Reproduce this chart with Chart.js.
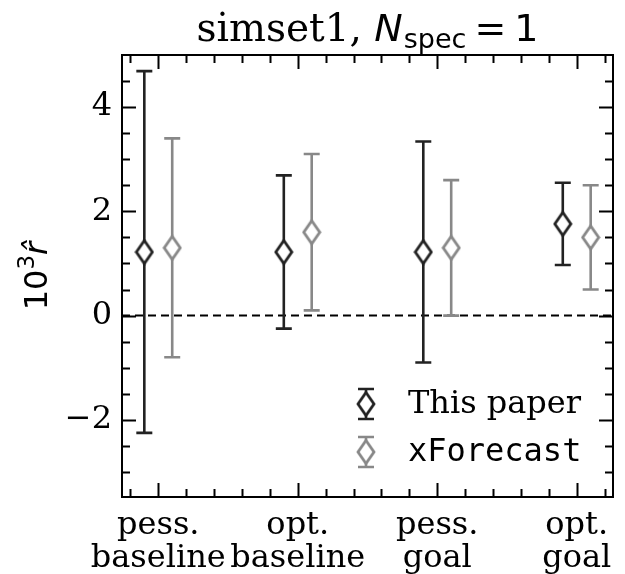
<!DOCTYPE html>
<html>
<head>
<meta charset="utf-8">
<script src="https://cdn.jsdelivr.net/npm/chart.js@4"></script>
<style>
  body { margin: 0; background: #fff; }
  #wrap { width: 625px; height: 574px; }
</style>
</head>
<body>
<div id="wrap"><canvas id="grafica" width="625" height="574"></canvas></div>
<script>
// Datos
const categorias = [["pess.", "baseline"], ["opt.", "baseline"], ["pess.", "goal"], ["opt.", "goal"]];
const posiciones = [0, 1, 2, 3];

const paperValores = [1.22, 1.22, 1.22, 1.76];
const paperErrores = [3.47, 1.47, 2.12, 0.79];

const xfValores = [1.30, 1.60, 1.30, 1.50];
const xfErrores = [2.10, 1.50, 1.30, 1.00];

const yTicks = [-2, 0, 2, 4];

const colorPaper = "#222222";
const colorXf = "#888888";
const desplazamiento = 0.1;

// marcador diamante delgado
function diamante(color, w, h) {
  const c = document.createElement("canvas");
  c.width = w + 4;
  c.height = h + 4;
  const g = c.getContext("2d");
  g.beginPath();
  g.moveTo(c.width / 2, 2);
  g.lineTo(c.width - 2, c.height / 2);
  g.lineTo(c.width / 2, c.height - 2);
  g.lineTo(2, c.height / 2);
  g.closePath();
  g.fillStyle = "#fff";
  g.fill();
  g.lineWidth = 2.8;
  g.strokeStyle = color;
  g.stroke();
  return c;
}

const marcaPaper = diamante(colorPaper, 16, 23);
const marcaXf = diamante(colorXf, 16, 23);

const SERIF = "'DejaVu Serif'";
const SANS = "'DejaVu Sans'";

const datosPaper = posiciones.map((p, i) => ({ x: p - desplazamiento, y: paperValores[i], e: paperErrores[i] }));
const datosXf = posiciones.map((p, i) => ({ x: p + desplazamiento, y: xfValores[i], e: xfErrores[i] }));

/* BARRAS DE ERROR, MARCO Y TEXTOS */
const extras = {
  id: "extras",
  beforeDatasetsDraw(chart) {
    const ctx = chart.ctx;
    const xs = chart.scales.x;
    const ys = chart.scales.y;
    const a = chart.chartArea;

    // linea punteada en cero
    ctx.save();
    ctx.strokeStyle = "#000";
    ctx.lineWidth = 2;
    ctx.setLineDash([8, 5]);
    ctx.beginPath();
    ctx.moveTo(a.left, ys.getPixelForValue(0));
    ctx.lineTo(a.right, ys.getPixelForValue(0));
    ctx.stroke();
    ctx.restore();

    chart.data.datasets.forEach(ds => {
      ctx.save();
      ctx.strokeStyle = ds.borderColor;
      ctx.lineWidth = 2.6;
      ds.data.forEach(d => {
        const px = xs.getPixelForValue(d.x);
        const top = ys.getPixelForValue(d.y + d.e);
        const bot = ys.getPixelForValue(d.y - d.e);
        ctx.beginPath();
        ctx.moveTo(px, top);
        ctx.lineTo(px, bot);
        ctx.moveTo(px - 8, top);
        ctx.lineTo(px + 8, top);
        ctx.moveTo(px - 8, bot);
        ctx.lineTo(px + 8, bot);
        ctx.stroke();
      });
      ctx.restore();
    });
  },
  afterDraw(chart) {
    const ctx = chart.ctx;
    const xs = chart.scales.x;
    const ys = chart.scales.y;
    const a = chart.chartArea;

    ctx.save();
    ctx.strokeStyle = "#000";
    ctx.lineWidth = 2;
    ctx.strokeRect(a.left, a.top, a.right - a.left, a.bottom - a.top);

    // ticks hacia dentro
    ctx.beginPath();
    for (let v = -3; v <= 4.9; v += 0.5) {
      const py = Math.round(ys.getPixelForValue(v)) + 0.5;
      const len = (Math.abs(v % 2) < 1e-6) ? 14 : 8;
      ctx.moveTo(a.left, py); ctx.lineTo(a.left + len, py);
      ctx.moveTo(a.right, py); ctx.lineTo(a.right - len, py);
    }
    for (let k = -1; k <= 16; k++) {
      const v = k * 0.2;
      const px = Math.round(xs.getPixelForValue(v)) + 0.5;
      const len = (k % 5 === 0) ? 14 : 8;
      ctx.moveTo(px, a.bottom); ctx.lineTo(px, a.bottom - len);
      ctx.moveTo(px, a.top); ctx.lineTo(px, a.top + len);
    }
    ctx.stroke();

    // titulo
    ctx.fillStyle = "#000";
    ctx.textBaseline = "alphabetic";
    ctx.textAlign = "left";
    const partes = [
      { t: "simset1, ", f: "39px " + SERIF, dy: 0, gap: 0 },
      { t: "N", f: "italic 38px " + SANS, dy: 0, gap: 1 },
      { t: "spec", f: "27px " + SANS, dy: 7, gap: 8 },
      { t: "=", f: "38px " + SANS, dy: 0, gap: 8 },
      { t: "1", f: "38px " + SANS, dy: 0, gap: 0 }
    ];
    let total = 0;
    partes.forEach(p => { ctx.font = p.f; total += ctx.measureText(p.t).width + p.gap; });
    let x = (a.left + a.right) / 2 - total / 2;
    partes.forEach(p => {
      ctx.font = p.f;
      ctx.fillText(p.t, x, 41 + p.dy);
      x += ctx.measureText(p.t).width + p.gap;
    });

    // etiqueta eje y
    ctx.save();
    ctx.translate(47, (a.top + a.bottom) / 2);
    ctx.rotate(-Math.PI / 2);
    const ey = [
      { t: "10", f: "32px " + SANS, dy: 0 },
      { t: "3", f: "23px " + SANS, dy: -13 },
      { t: "r\u0302", f: "italic 32px " + SANS, dy: 0 }
    ];
    total = 0;
    ey.forEach(p => { ctx.font = p.f; total += ctx.measureText(p.t).width; });
    x = -total / 2;
    ey.forEach(p => {
      ctx.font = p.f;
      ctx.fillText(p.t, x, p.dy);
      x += ctx.measureText(p.t).width;
    });
    ctx.restore();

    // leyenda
    const items = [
      { t: "This paper", f: "32px " + SERIF, c: colorPaper, m: marcaPaper, y: 404 },
      { t: "xForecast", f: "32px 'DejaVu Sans Mono'", c: colorXf, m: marcaXf, y: 452 }
    ];
    items.forEach(it => {
      ctx.strokeStyle = it.c;
      ctx.lineWidth = 2.6;
      ctx.beginPath();
      ctx.moveTo(366, it.y - 15); ctx.lineTo(366, it.y + 15);
      ctx.moveTo(358, it.y - 15); ctx.lineTo(374, it.y - 15);
      ctx.moveTo(358, it.y + 15); ctx.lineTo(374, it.y + 15);
      ctx.stroke();
      ctx.drawImage(it.m, 366 - it.m.width / 2, it.y - it.m.height / 2);
      ctx.font = it.f;
      ctx.fillStyle = "#000";
      ctx.textBaseline = "middle";
      ctx.fillText(it.t, 408, it.y + 1);
    });
    ctx.restore();
  }
};

new Chart(document.getElementById("grafica"), {
  type: "scatter",
  data: {
    datasets: [
      {
        label: "This paper",
        data: datosPaper,
        borderColor: colorPaper,
        pointStyle: marcaPaper,
        pointRadius: 10
      },
      {
        label: "xForecast",
        data: datosXf,
        borderColor: colorXf,
        pointStyle: marcaXf,
        pointRadius: 10
      }
    ]
  },
  options: {
    responsive: false,
    devicePixelRatio: 1,
    animation: false,
    layout: { padding: { top: 55, right: 12, left: 0, bottom: 0 } },
    plugins: {
      legend: { display: false },
      tooltip: { enabled: false }
    },
    scales: {
      x: {
        type: "linear",
        min: -0.26,
        max: 3.26,
        grid: { display: false, drawTicks: false },
        border: { display: false },
        afterBuildTicks(scale) {
          scale.ticks = posiciones.map(v => ({ value: v }));
        },
        afterFit(scale) { scale.height = 77; },
        ticks: {
          color: "#000",
          padding: 12,
          maxRotation: 0,
          autoSkip: false,
          font: { family: "DejaVu Serif", size: 32, lineHeight: 1.03 },
          callback: (v) => categorias[posiciones.indexOf(v)]
        }
      },
      y: {
        min: -3.48,
        max: 5,
        grid: { display: false, drawTicks: false },
        border: { display: false },
        afterBuildTicks(scale) {
          scale.ticks = yTicks.map(v => ({ value: v }));
        },
        afterFit(scale) { scale.width = 122; },
        ticks: {
          color: "#000",
          padding: 10,
          font: { family: "DejaVu Serif", size: 32 },
          callback: (v) => (v < 0 ? "\u2212" + Math.abs(v) : String(v))
        }
      }
    }
  },
  plugins: [extras]
});
</script>
</body>
</html>
